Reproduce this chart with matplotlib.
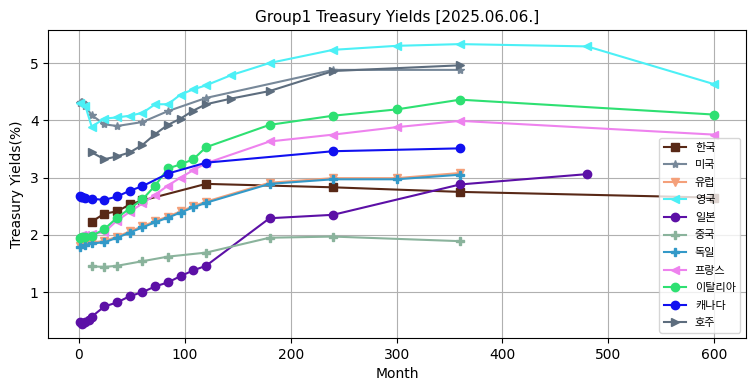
import matplotlib
matplotlib.use('Agg')
import matplotlib.pyplot as plt

plt.rcParams['font.family'] = ['DejaVu Sans', 'Noto Sans CJK KR']

# 한국
kr_m = [12, 24, 36, 48, 60, 120, 240, 360, 600]
kr_y = [2.23, 2.37, 2.41, 2.53, 2.60, 2.89, 2.83, 2.75, 2.65]
# 미국
us_m = [1, 2, 3, 4, 6, 12, 24, 36, 60, 84, 120, 240, 360]
us_y = [4.30, 4.32, 4.32, 4.30, 4.25, 4.09, 3.93, 3.90, 3.97, 4.16, 4.39, 4.88, 4.88]
# 독일 / 유럽
de_m = [1, 6, 12, 24, 36, 48, 60, 72, 84, 96, 108, 120, 180, 240, 300, 360]
de_y = [1.78, 1.82, 1.85, 1.87, 1.95, 2.04, 2.13, 2.22, 2.30, 2.39, 2.48, 2.56, 2.89, 2.97, 2.97, 3.05]
eu_y = [1.80, 1.84, 1.87, 1.89, 1.97, 2.06, 2.15, 2.24, 2.32, 2.41, 2.50, 2.58, 2.91, 2.99, 2.99, 3.08]
# 영국
uk_m = [1, 6, 12, 24, 36, 48, 60, 72, 84, 96, 108, 120, 144, 180, 240, 300, 360, 480, 600]
uk_y = [4.30, 4.25, 3.89, 4.03, 4.05, 4.08, 4.13, 4.28, 4.28, 4.45, 4.54, 4.61, 4.79, 5.00,
        5.23, 5.30, 5.33, 5.29, 4.63]
# 일본
jp_m = [1, 3, 6, 9, 12, 24, 36, 48, 60, 72, 84, 96, 108, 120, 180, 240, 360, 480]
jp_y = [0.48, 0.44, 0.47, 0.52, 0.57, 0.75, 0.82, 0.93, 1.00, 1.10, 1.17, 1.28, 1.38, 1.46,
        2.29, 2.35, 2.88, 3.06]
# 중국
cn_m = [12, 24, 36, 60, 84, 120, 180, 240, 360]
cn_y = [1.45, 1.44, 1.46, 1.54, 1.62, 1.69, 1.95, 1.97, 1.89]
# 프랑스
fr_m = [1, 3, 6, 12, 24, 36, 48, 60, 72, 84, 96, 108, 120, 180, 240, 300, 360, 600]
fr_y = [1.98, 2.00, 2.00, 2.01, 2.05, 2.25, 2.40, 2.55, 2.70, 2.86, 3.00, 3.13, 3.25,
        3.63, 3.75, 3.88, 3.99, 3.75]
# 이탈리아
it_m = [1, 3, 6, 12, 24, 36, 48, 60, 72, 84, 96, 108, 120, 180, 240, 300, 360, 600]
it_y = [1.95, 1.96, 1.97, 1.98, 2.10, 2.30, 2.46, 2.62, 2.86, 3.16, 3.23, 3.32, 3.53,
        3.92, 4.08, 4.19, 4.36, 4.10]
# 캐나다
ca_m = [1, 2, 3, 6, 12, 24, 36, 48, 60, 84, 120, 240, 360]
ca_y = [2.67, 2.66, 2.66, 2.64, 2.63, 2.61, 2.67, 2.77, 2.85, 3.07, 3.26, 3.46, 3.51]
# 호주
au_m = [12, 24, 36, 48, 60, 72, 84, 96, 108, 120, 144, 180, 240, 360]
au_y = [3.44, 3.32, 3.37, 3.44, 3.57, 3.76, 3.92, 4.03, 4.17, 4.28, 4.38, 4.51, 4.86, 4.96]

series = [
    ('한국', kr_m, kr_y, 's', '#582816'),
    ('미국', us_m, us_y, '*', '#778899'),
    ('유럽', de_m, eu_y, 'v', '#f4a07a'),
    ('영국', uk_m, uk_y, '<', '#4cf0f6'),
    ('일본', jp_m, jp_y, 'o', '#5c10a6'),
    ('중국', cn_m, cn_y, 'P', '#8ab39c'),
    ('독일', de_m, de_y, 'P', '#3399c8'),
    ('프랑스', fr_m, fr_y, '<', '#ee82ee'),
    ('이탈리아', it_m, it_y, 'o', '#2ee072'),
    ('캐나다', ca_m, ca_y, 'o', '#1010f0'),
    ('호주', au_m, au_y, '>', '#5d6d7e'),
]

fig, ax = plt.subplots(figsize=(7.55, 3.91), dpi=100)
for name, m, y, mk, c in series:
    ax.plot(m, y, marker=mk, color=c, label=name)

ax.set_title('Group1 Treasury Yields [2025.06.06.]', fontsize=11)
ax.set_xlabel('Month')
ax.set_ylabel('Treasury Yields(%)')
ax.grid(True)
ax.legend(loc='lower right', fontsize=8, labelspacing=0.68)

plt.subplots_adjust(left=0.064, right=0.988, bottom=0.135, top=0.923)
plt.savefig('out.png')
